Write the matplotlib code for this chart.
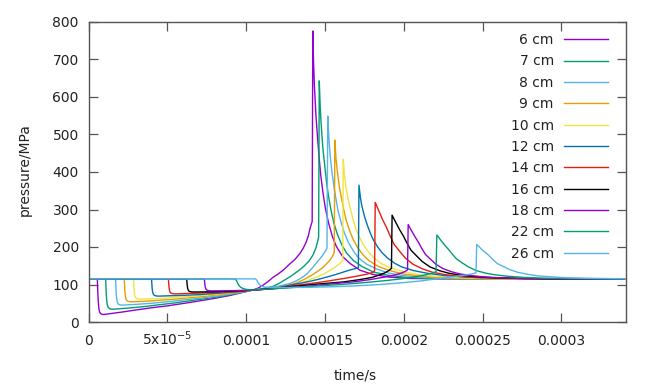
import matplotlib
matplotlib.use("Agg")
import matplotlib.pyplot as plt

# ---- data (time in microseconds, pressure in MPa) ----
labels = ["6 cm", "7 cm", "8 cm", "9 cm", "10 cm", "12 cm", "14 cm", "16 cm", "18 cm", "22 cm", "26 cm"]
colors = ["#9400d3", "#009e73", "#56b4e9", "#e69f00", "#f0e442", "#0072b2",
          "#e51e10", "#000000", "#9400d3", "#009e73", "#56b4e9"]

t6 = [0, 5.6, 5.9, 6.2, 6.6, 7.1, 7.8, 8.6, 9.5, 15, 22, 30, 40, 50, 61, 70, 80, 90, 98, 104,
      106, 108, 111, 114, 117, 120, 124, 128, 131, 134, 136, 138, 139.5, 140.5, 141.3, 141.9, 142.3,
      142.8, 143.3, 144.3, 145.3, 146.3, 147.3, 148.8, 150.3, 152.3, 154.8, 157.3, 161.3, 166.3,
      172.3, 180.3, 190.3, 202.3, 225, 340]
p6 = [115, 115, 80, 55, 35, 26, 22, 20.5, 20, 23, 27, 32, 38, 43, 50, 56, 63, 71, 79, 85,
      88, 91, 99, 108, 119, 127, 140, 156, 167, 182, 195, 212, 230, 249, 260, 268, 776,
      690, 631, 551, 492, 439, 393, 343, 303, 264, 227, 201, 174, 155,
      138, 127, 120, 116.3, 115, 115]

t7 = [0, 10.9, 11.2, 11.5, 11.9, 12.5, 13.3, 14.2, 15, 25, 35, 45, 55, 65, 75, 85, 95, 104,
      110, 117, 121, 124, 128, 131, 134, 137, 140, 142.6, 144.3, 145.3, 146.0, 146.4,
      147.0, 147.6, 148.7, 149.9, 151.0, 152.2, 153.9, 155.6, 157.9, 160.8, 163.7, 168.3, 174.0,
      180.9, 190.1, 201.6, 215.4, 240, 340]
p7 = [115, 115, 80, 60, 46, 39, 36, 34.5, 34, 37, 41, 46, 51, 57, 63, 69, 77, 85,
      88, 95, 103, 111, 121, 130, 139, 150, 163, 180, 198, 213, 227, 643,
      574, 527, 463, 416, 374, 337, 297, 265, 234, 205, 184, 163, 147,
      133, 124.5, 119, 116, 115, 115]

t8 = [0, 17.2, 17.5, 17.8, 18.2, 18.8, 19.6, 20.5, 21.5, 30, 40, 50, 61, 72, 85, 95, 104,
      112, 120, 128, 132, 136, 139, 142.6, 145.5, 148, 150, 151.3, 151.8,
      152.5, 153.1, 154.4, 155.7, 157.0, 158.3, 160.3, 162.2, 164.8, 168.1, 171.3, 176.5, 183.0,
      190.8, 201.2, 214.2, 229.8, 250, 340]
p8 = [115, 115, 82, 65, 54, 48.5, 46, 45.2, 45, 47, 50, 54, 59, 64, 71, 78, 85,
      90, 95, 103, 110, 120, 130, 147, 162, 175, 187, 197, 549,
      493, 454, 401, 362, 328, 297, 265, 239, 213, 189, 171, 154, 141,
      130, 123, 118.5, 116, 115, 115]

t9 = [0, 22.7, 23.0, 23.3, 23.7, 24.3, 25.1, 26, 27, 35, 45, 55, 65, 75, 85, 95, 104,
      115, 125, 132, 138, 142, 145, 148, 151, 153, 154.5, 155.9, 156.3,
      157.0, 157.8, 159.2, 160.7, 162.1, 163.6, 165.7, 167.9, 170.8, 174.4, 178.1, 183.9, 191.1,
      199.8, 211.4, 225.9, 243.3, 265, 340]
p9 = [115, 115, 88, 72, 62, 57, 55, 54.2, 54, 55, 58, 61, 65, 69, 74, 79, 85,
      90, 96, 104, 116, 126, 134, 143, 155, 164, 173, 185, 485,
      437, 404, 359, 326, 296, 270, 243, 220, 198, 178, 163, 148, 137,
      128, 122, 118, 115.7, 115, 115]

t10 = [0, 28.5, 28.8, 29.1, 29.5, 30.1, 30.9, 31.9, 33, 42, 50, 60, 70, 80, 90, 98, 104,
       115, 125, 130, 135, 140, 145, 150, 155, 158, 160, 161.3, 161.6,
       162.4, 163.2, 164.8, 166.4, 168.0, 169.6, 172.0, 174.4, 177.6, 181.6, 185.6, 192.0, 200.0,
       209.6, 222.4, 238.4, 257.6, 280, 340]
p10 = [115, 115, 92, 78, 68, 64, 62, 61.2, 61, 62, 64, 67, 70, 74, 78, 82, 85,
       90, 94, 98, 104, 112, 120, 130, 142, 151, 158, 165, 434,
       393, 364, 326, 297, 271, 249, 225, 206, 187, 169, 156, 144, 134,
       126, 121, 117.5, 115.6, 115, 115]

t12 = [0, 40, 40.3, 40.6, 41.0, 41.6, 42.4, 43.4, 44.5, 52, 60, 70, 80, 90, 98, 104,
       112, 120, 130, 140, 147, 153, 158, 163, 167, 170, 171.2, 171.6,
       172.5, 173.4, 175.2, 177.0, 178.8, 180.6, 183.3, 186.0, 189.6, 194.1, 198.6, 205.8, 214.8,
       225.6, 240.0, 258.0, 279.6, 300, 340]
p12 = [115, 115, 94, 82, 75, 71.5, 70, 69.3, 69, 70, 71, 73, 76, 79, 82, 85,
       88, 92, 100, 108, 115, 122, 128, 135, 140, 143, 145, 365,
       332, 310, 280, 257, 237, 220, 201, 186, 171, 157, 147, 137.5, 130,
       124, 119.5, 117, 115.5, 115, 115]

t14 = [0, 50.7, 51.0, 51.3, 51.7, 52.3, 53.1, 54, 55, 62, 70, 80, 88, 96, 104,
       112, 120, 130, 140, 150, 162, 170, 176, 179.5, 181.5, 181.9,
       183.1, 184.3, 186.7, 189.1, 191.5, 193.9, 197.5, 201.1, 205.9, 211.9, 217.9, 225.1, 234.7,
       246.7, 261.1, 277.9, 300, 340]
p14 = [115, 115, 96, 86, 80, 77, 75.8, 75.2, 75, 76, 77, 79, 80, 82, 85,
       87.5, 91, 97, 102, 108, 116, 122, 127, 131, 136, 319,
       307, 295, 272, 252, 228, 207, 188, 170, 154, 141.5, 133, 127, 122,
       118.7, 116.6, 115.4, 115, 115]

t16 = [0, 62.3, 62.6, 62.9, 63.3, 63.9, 64.7, 65.7, 67, 75, 85, 95, 104,
       115, 130, 145, 162, 172, 180, 185, 188, 190.5, 192.2, 192.6,
       193.8, 195.0, 197.4, 199.8, 202.2, 204.6, 208.2, 211.8, 216.6, 222.6, 228.6, 235.8, 245.4,
       257.4, 271.8, 288.6, 310, 340]
p16 = [115, 115, 99, 90, 84.5, 81.8, 80.7, 80.2, 80, 80.3, 81.5, 83, 85,
       88.5, 95, 101, 107, 113, 119, 126, 131, 137, 143, 285,
       275, 265, 246, 229, 209, 191.5, 176, 161, 147, 137, 130, 125, 121,
       118, 116.4, 115.3, 115, 115]

t18 = [0, 73.5, 73.8, 74.1, 74.5, 75.1, 75.9, 76.9, 78, 85, 95, 104,
       115, 130, 140, 155, 170, 180, 188, 194, 198, 200.5, 202.4, 202.8,
       203.9, 205.0, 207.2, 209.4, 211.6, 213.8, 217.1, 220.4, 224.8, 230.3, 235.8, 242.4, 251.2,
       262.2, 275.4, 290.8, 310, 340]
p18 = [115, 115, 101, 93, 88, 85, 83.8, 83.2, 83, 83.2, 84, 85,
       88, 93, 96, 102, 108, 114, 120, 125, 130, 134, 139, 260,
       251, 243, 227, 212, 195, 180, 167, 154, 142.5, 134, 128, 124, 120,
       117.6, 116.2, 115.3, 115, 115]

t22 = [0, 93, 93.8, 94.6, 95.5, 96.7, 98.5, 101, 104,
       115, 130, 145, 160, 175, 190, 200, 208, 214, 218, 220.5, 221,
       222.3, 223.5, 226.0, 228.5, 231.0, 233.5, 237.3, 241.0, 246.0, 252.3, 258.5, 266.0, 276.0,
       288.5, 303.5, 321.0, 340]
p22 = [115, 115, 111, 104, 97, 92, 88.5, 86.5, 85,
       88, 92, 96, 100, 105, 111, 116, 121, 126, 130, 134, 232,
       225, 218, 205, 193, 180, 168, 157, 147, 137, 130, 125.5, 122, 119,
       117, 116, 115.2, 115]

t26 = [0, 106, 106.8, 107.6, 108.6, 110, 112, 115,
       125, 140, 155, 170, 185, 200, 212, 222, 232, 239, 243, 245.8, 246.3,
       247.6, 248.9, 251.5, 254.1, 256.7, 259.3, 263.2, 267.1, 272.3, 278.8, 285.3, 293.1, 303.5,
       316.5, 332.1, 340]
p26 = [115, 115, 111, 105, 99, 95, 93, 92.3,
       92, 92.5, 94, 96.5, 100, 105, 110, 116, 121, 125, 128, 131, 207,
       201.5, 196, 186, 177, 166, 156, 148, 140, 132.5, 127, 123, 120.5, 118,
       116.7, 115.7, 115.5]

times = [t6, t7, t8, t9, t10, t12, t14, t16, t18, t22, t26]
pressures = [p6, p7, p8, p9, p10, p12, p14, p16, p18, p22, p26]

xticks = [0, 5e-5, 1e-4, 1.5e-4, 2e-4, 2.5e-4, 3e-4]
xticklabels = ["0", r"5x10$^{-5}$", "0.0001", "0.00015", "0.0002", "0.00025", "0.0003"]
yticks = [0, 100, 200, 300, 400, 500, 600, 700, 800]

# ---- figure ----
plt.rcParams["font.family"] = ["DejaVu Sans"]
plt.rcParams["mathtext.fontset"] = "dejavusans"
fig = plt.figure(figsize=(6.5, 3.9), dpi=100)
ax = fig.add_axes([88.5 / 650, 1 - 322 / 390, (626 - 88.5) / 650, 300 / 390])

for t, p, lab, c in zip(times, pressures, labels, colors):
    ax.plot([v * 1e-6 for v in t], p, color=c, lw=1.0, label=lab)

ax.set_xlim(0, 3.41e-4)
ax.set_ylim(0, 800)
ax.set_xticks(xticks)
ax.set_xticklabels(xticklabels)
ax.set_yticks(yticks)

frame = "#555555"
for s in ax.spines.values():
    s.set_color(frame)
    s.set_linewidth(1.0)
ax.tick_params(direction="in", length=6.5, width=0.9, color=frame, labelsize=10,
               labelcolor="#222222", top=True, right=True, pad=7)
for lab in ax.get_xticklabels():
    lab.set_va("baseline")
ax.tick_params(axis="x", pad=16.5)

ax.set_xlabel("time/s", fontsize=10, color="#222222")
ax.set_ylabel("pressure/MPa", fontsize=10, color="#222222")
ax.xaxis.set_label_coords(0.496, -0.177)
ax.xaxis.label.set_va("center")
ax.yaxis.set_label_coords(-0.118, 0.507)
ax.yaxis.label.set_va("center")

leg = ax.legend(loc="upper right", bbox_to_anchor=(0.9665, 0.963), borderaxespad=0,
                borderpad=0, frameon=False, markerfirst=False, fontsize=10,
                handlelength=3.2, handletextpad=0.7, labelspacing=0.53)
for txt in leg.get_texts():
    txt.set_color("#222222")

fig.savefig("out.png", dpi=100)
